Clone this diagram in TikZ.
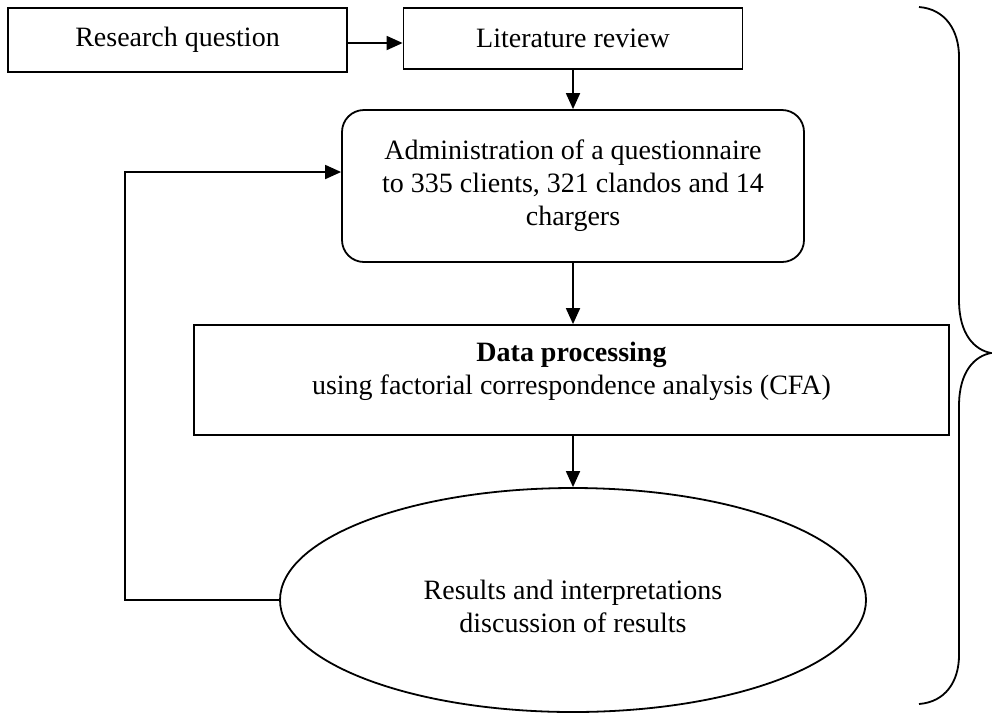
\documentclass[tikz,border=0pt]{standalone}
\usepackage{fontspec}
\setmainfont{Liberation Serif}
\usepackage{tikz}
\usetikzlibrary{shapes.geometric, arrows.meta}

\tikzset{
    box/.style={draw, line width=1.8pt, inner sep=0pt, align=center,
        font=\fontsize{28}{33}\selectfont},
    roundbox/.style={box, rounded corners=22pt},
    oval/.style={box, ellipse},
    arr/.style={line width=1.8pt, -{Triangle[length=16pt, width=14pt]}}
}

\begin{document}
\begin{tikzpicture}[x=1pt, y=-1pt]
    % page frame, in pixels of the reference
    \useasboundingbox (0,0) rectangle (992,724);

    % 1. The steps of the study
    \node[box, minimum width=339pt, minimum height=64pt] (rq) at (177.5,40) {Research question};
    \node[box, minimum width=339pt, minimum height=61pt] (lr) at (573,38.5) {Literature review};
    \node[roundbox, minimum width=462pt, minimum height=152pt] (adm) at (573,186)
        {Administration of a questionnaire\\to 335 clients, 321 clandos and 14\\chargers};
    \node[box, minimum width=755pt, minimum height=110pt, text depth=24pt] (dp) at (571.5,380)
        {\textbf{Data processing}\\using factorial correspondence analysis (CFA)};
    \node[oval, minimum width=586pt, minimum height=224pt, text height=66pt] (res) at (573,600)
        {Results and interpretations\\discussion of results};

    % 2. Arrows between the steps
    \draw[arr] (rq.east |- 0,43) -- (lr.west |- 0,43);
    \draw[arr] (lr.south) -- (adm.north);
    \draw[arr] (adm.south) -- (adm.south |- dp.north);
    \draw[arr] (adm.south |- dp.south) -- (res.north);

    % Feedback from the results back to the questionnaire
    \coordinate (back) at (125,600);
    \draw[arr] (res.west) -- (back) |- ([yshift=14pt]adm.west);

    % 3. Brace on the right
    \draw[line width=1.8pt] (919,7) .. controls (945,9) and (959,30) .. (959,57)
        -- (959,300) .. controls (959,335) and (975,350) .. (991,353)
        .. controls (975,356) and (959,371) .. (959,406)
        -- (959,655) .. controls (959,682) and (945,702) .. (919,704);

\end{tikzpicture}
\end{document}
